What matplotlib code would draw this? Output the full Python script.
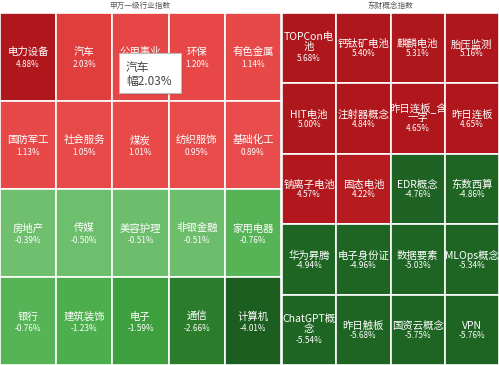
import matplotlib.pyplot as plt
from matplotlib.colors import LinearSegmentedColormap, to_hex
from matplotlib.patches import Rectangle
import numpy as np

plt.rcParams['font.family'] = ['Noto Sans CJK SC', 'DejaVu Sans']

# 申万一级行业指数 (5 列 x 4 行)
sw_names = ['电力设备', '汽车', '公用事业', '环保', '有色金属',
            '国防军工', '社会服务', '煤炭', '纺织服饰', '基础化工',
            '房地产', '传媒', '美容护理', '非银金融', '家用电器',
            '银行', '建筑装饰', '电子', '通信', '计算机']
sw_values = [4.88, 2.03, 1.25, 1.20, 1.14,
             1.13, 1.05, 1.01, 0.95, 0.89,
             -0.39, -0.50, -0.51, -0.51, -0.76,
             -0.76, -1.23, -1.59, -2.66, -4.01]
sw_labels = ['4.88%', '2.03%', '', '1.20%', '1.14%',
             '1.13%', '1.05%', '1.01%', '0.95%', '0.89%',
             '-0.39%', '-0.50%', '-0.51%', '-0.51%', '-0.76%',
             '-0.76%', '-1.23%', '-1.59%', '-2.66%', '-4.01%']

# 东财概念指数 (4 列 x 5 行)
dc_names = ['TOPCon电\n池', '钙钛矿电池', '麒麟电池', '胎压监测',
            'HIT电池', '注射器概念', '昨日连板_含\n一字', '昨日连板',
            '钠离子电池', '固态电池', 'EDR概念', '东数西算',
            '华为昇腾', '电子身份证', '数据要素', 'MLOps概念',
            'ChatGPT概\n念', '昨日触板', '国资云概念', 'VPN']
dc_values = [5.68, 5.40, 5.31, 5.16,
             5.00, 4.84, 4.65, 4.65,
             4.57, 4.22, -4.76, -4.86,
             -4.94, -4.96, -5.03, -5.34,
             -5.54, -5.68, -5.75, -5.76]

pos_cmap = LinearSegmentedColormap.from_list(
    'pos', [(0, '#EA6C6C'), (0.18, '#E94B4B'), (0.4, '#E03D3D'), (0.9, '#B1171C'), (1, '#AE171C')])
neg_cmap = LinearSegmentedColormap.from_list(
    'neg', [(0, '#74C174'), (0.1, '#6DBE6D'), (0.15, '#56B456'), (0.25, '#4CAE4C'),
            (0.32, '#3E9E3E'), (0.53, '#2B7C2B'), (0.8, '#1C5E1F'), (1, '#1E6524')])


def cell_color(v):
    if v >= 0:
        return to_hex(pos_cmap(min(v / 5.0, 1.0)))
    return to_hex(neg_cmap(min(-v / 5.0, 1.0)))


def draw_grid(ax, names, values, labels, ncol, nrow, fs_name, fs_val):
    cols = np.arange(len(names)) % ncol
    rows = np.arange(len(names)) // ncol
    ax.bar(cols, 1, bottom=rows, width=1, align='edge',
           color=[cell_color(v) for v in values], edgecolor='white', linewidth=1.2)
    for c, r, n, lab in zip(cols, rows, names, labels):
        if '\n' in n:
            ax.text(c + 0.5, r + 0.42, n, ha='center', va='center', color='white',
                    fontsize=fs_name, linespacing=1.0)
            ax.text(c + 0.5, r + 0.65, lab, ha='center', va='center', color='white', fontsize=fs_val)
        else:
            ax.text(c + 0.5, r + 0.45, n, ha='center', va='center', color='white', fontsize=fs_name)
            ax.text(c + 0.5, r + 0.585, lab, ha='center', va='center', color='white', fontsize=fs_val)
    ax.set_xlim(0, ncol)
    ax.set_ylim(nrow, 0)
    ax.axis('off')


fig = plt.figure(figsize=(4.99, 3.65), dpi=100)
fig.patch.set_facecolor('white')

H = 365.0
W = 499.0
top = 12.5
ax1 = fig.add_axes([0, 0, 281 / W, (H - top) / H])
ax2 = fig.add_axes([282 / W, 0, 217 / W, (H - top) / H])

draw_grid(ax1, sw_names, sw_values, sw_labels, 5, 4, 7.5, 5.9)
dc_labels = ['%.2f%%' % v for v in dc_values]
draw_grid(ax2, dc_names, dc_values, dc_labels, 4, 5, 7.5, 5.9)

fig.text(140 / W, 1 - 6 / H, '申万一级行业指数', ha='center', va='center', fontsize=5.5, color='#555555')
fig.text(390 / W, 1 - 6 / H, '东财概念指数', ha='center', va='center', fontsize=5.5, color='#555555')

# 悬浮提示框
fig.patches.append(Rectangle((121 / W, 1 - 95 / H), 62 / W, 40 / H, transform=fig.transFigure,
                             facecolor='#9A3030', edgecolor='none', alpha=0.25, zorder=4))
fig.patches.append(Rectangle((119 / W, 1 - 93 / H), 62 / W, 40 / H, transform=fig.transFigure,
                             facecolor='white', edgecolor='#BBBBBB', linewidth=0.8, zorder=5))
fig.text(126 / W, 1 - 67 / H, '汽车', ha='left', va='center', fontsize=8.5, color='#444444', zorder=6)
fig.text(126 / W, 1 - 81 / H, '幅2.03%', ha='left', va='center', fontsize=8.5, color='#444444', zorder=6)

fig.savefig('out.png', dpi=100)
